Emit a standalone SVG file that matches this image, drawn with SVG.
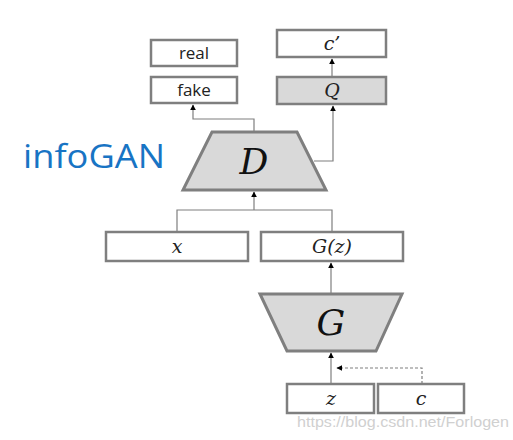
<svg xmlns="http://www.w3.org/2000/svg" width="513" height="440" viewBox="0 0 513 440">
<defs>
<marker id="ah" viewBox="0 0 10 10" refX="9" refY="5" markerWidth="6" markerHeight="6" orient="auto" markerUnits="userSpaceOnUse">
<path d="M0,0 L10,5 L0,10 Z" fill="#000"/>
</marker>
</defs>
<style>
.box{fill:#fff;stroke:#7f7f7f;stroke-width:2.5}
.gbox{fill:#d9d9d9;stroke:#7f7f7f;stroke-width:2.5}
.trap{fill:#d9d9d9;stroke:#7f7f7f;stroke-width:3}
.sans{font-family:"Open Sans","Noto Sans",sans-serif;font-size:17px;fill:#222;text-anchor:middle}
.math{font-family:"DejaVu Serif","Liberation Serif",serif;font-style:italic;font-size:19px;fill:#222;text-anchor:middle}
.big{font-family:"DejaVu Serif","Liberation Serif",serif;font-style:italic;font-size:36px;fill:#111;text-anchor:middle}
.conn{fill:none;stroke:#7f7f7f;stroke-width:1.2}
.dash{fill:none;stroke:#7f7f7f;stroke-width:1.2;stroke-dasharray:3,2}
</style>
<rect width="513" height="440" fill="#fff"/>
<text x="23" y="168" font-family="Open Sans, Noto Sans, sans-serif" font-size="32" fill="#1874c4" textLength="142" lengthAdjust="spacingAndGlyphs">infoGAN</text>
<g id="connectors">
<path class="conn" d="M254,132 V119 H193 V105" marker-end="url(#ah)"/>
<path class="conn" d="M314,161 H333 V106" marker-end="url(#ah)"/>
<path class="conn" d="M332,76 V59" marker-end="url(#ah)"/>
<path class="conn" d="M177,232 V210 H332 V232"/>
<path class="conn" d="M254,210 V192" marker-end="url(#ah)"/>
<path class="conn" d="M331,294 V263" marker-end="url(#ah)"/>
<path class="conn" d="M331,384 V353" marker-end="url(#ah)"/>
<path class="dash" d="M422,384 V368 H337" marker-end="url(#ah)"/>
</g>
<g id="real"><rect class="box" x="151" y="40" width="86" height="26"/><text class="sans" x="194" y="59">real</text></g>
<g id="fake"><rect class="box" x="151" y="77" width="86" height="26"/><text class="sans" x="194" y="96">fake</text></g>
<g id="cprime"><rect class="box" x="277" y="30" width="109" height="27"/><text class="math" x="332" y="50">c’</text></g>
<g id="Q"><rect class="gbox" x="277" y="77" width="109" height="27"/><text class="math" x="332" y="97">Q</text></g>
<g id="D"><polygon class="trap" points="212,132 297,132 326,190 183,190"/><text class="big" x="254" y="174">D</text></g>
<g id="x"><rect class="box" x="106" y="232" width="142" height="29"/><text class="math" x="177" y="253">x</text></g>
<g id="Gz"><rect class="box" x="261" y="232" width="142" height="29"/><text class="math" x="332" y="253">G(z)</text></g>
<g id="G"><polygon class="trap" points="260,294 402,294 376,351 287,351"/><text class="big" x="331" y="335">G</text></g>
<g id="z"><rect class="box" x="287" y="384" width="87" height="29"/><text class="math" x="331" y="405">z</text></g>
<g id="c"><rect class="box" x="378" y="384" width="86" height="29"/><text class="math" x="421" y="405">c</text></g>
<text x="297" y="427" font-family="Liberation Sans, Arial, sans-serif" font-size="15" fill="#d0d0d0" textLength="212" lengthAdjust="spacingAndGlyphs">https://blog.csdn.net/Forlogen</text>
</svg>
